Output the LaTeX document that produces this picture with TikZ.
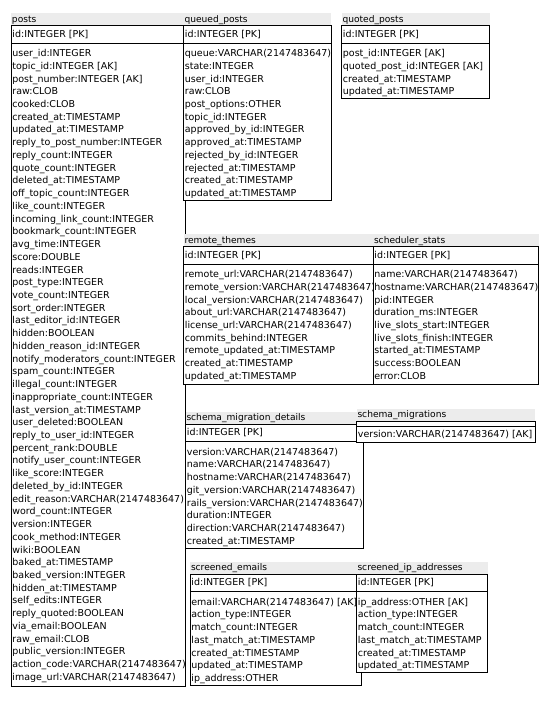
\documentclass[tikz,border=0pt]{standalone}
\usepackage{fontspec}
\setmainfont{DejaVu Sans}
\definecolor{hdrgray}{RGB}{236,236,236}
\tikzset{
  tblbox/.style={draw=black, fill=white, line width=1pt},
  sepline/.style={draw=black, line width=1pt},
  ttl/.style={anchor=base west, inner sep=0pt, font=\fontsize{9.1}{10}\selectfont},
  rowtxt/.style={anchor=base west, inner sep=0pt, font=\fontsize{9.5}{11}\selectfont},
}
% #1 id, #2 title, #3 left, #4 right, #5 top, #6 bottom, #7 pk text, #8 columns
\newcommand{\erTable}[8]{%
  \fill[hdrgray] (#3,#5-12.5) rectangle (#4,#5);
  \node[ttl] (#1-title) at (#3+0.8,#5-3.4) {#2};
  \draw[tblbox] (#3,#5) rectangle (#4,#6);
  \draw[sepline] (#3,#5+17.6) -- (#4,#5+17.6);
  \node[rowtxt] (#1-pk) at (#3+1.2,#5+11.6) {#7};
  \foreach \c [count=\i] in {#8}{
    \node[rowtxt] (#1-c\i) at (#3+1.2,{#5+31.1+(\i-1)*12.73}) {\c};
  }%
}
\begin{document}
\begin{tikzpicture}[x=1pt,y=-1pt]
\fill[white] (0,0) rectangle (552,711);
\useasboundingbox (0,0) rectangle (552,711);

\erTable{posts}{posts}{11}{185.5}{25.5}{686}{id:INTEGER [PK]}{%
user\_id:INTEGER,topic\_id:INTEGER [AK],post\_number:INTEGER [AK],raw:CLOB,cooked:CLOB,%
created\_at:TIMESTAMP,updated\_at:TIMESTAMP,reply\_to\_post\_number:INTEGER,reply\_count:INTEGER,%
quote\_count:INTEGER,deleted\_at:TIMESTAMP,off\_topic\_count:INTEGER,like\_count:INTEGER,%
incoming\_link\_count:INTEGER,bookmark\_count:INTEGER,avg\_time:INTEGER,score:DOUBLE,reads:INTEGER,%
post\_type:INTEGER,vote\_count:INTEGER,sort\_order:INTEGER,last\_editor\_id:INTEGER,hidden:BOOLEAN,%
hidden\_reason\_id:INTEGER,notify\_moderators\_count:INTEGER,spam\_count:INTEGER,illegal\_count:INTEGER,%
inappropriate\_count:INTEGER,last\_version\_at:TIMESTAMP,user\_deleted:BOOLEAN,reply\_to\_user\_id:INTEGER,%
percent\_rank:DOUBLE,notify\_user\_count:INTEGER,like\_score:INTEGER,deleted\_by\_id:INTEGER,%
edit\_reason:VARCHAR(2147483647),word\_count:INTEGER,version:INTEGER,cook\_method:INTEGER,wiki:BOOLEAN,%
baked\_at:TIMESTAMP,baked\_version:INTEGER,hidden\_at:TIMESTAMP,self\_edits:INTEGER,reply\_quoted:BOOLEAN,%
via\_email:BOOLEAN,raw\_email:CLOB,public\_version:INTEGER,action\_code:VARCHAR(2147483647),%
image\_url:VARCHAR(2147483647)}

\erTable{queued}{queued\_posts}{183.5}{331}{25.5}{200.5}{id:INTEGER [PK]}{%
queue:VARCHAR(2147483647),state:INTEGER,user\_id:INTEGER,raw:CLOB,post\_options:OTHER,topic\_id:INTEGER,%
approved\_by\_id:INTEGER,approved\_at:TIMESTAMP,rejected\_by\_id:INTEGER,rejected\_at:TIMESTAMP,%
created\_at:TIMESTAMP,updated\_at:TIMESTAMP}

\erTable{quoted}{quoted\_posts}{341.5}{489.5}{25.5}{99}{id:INTEGER [PK]}{%
post\_id:INTEGER [AK],quoted\_post\_id:INTEGER [AK],created\_at:TIMESTAMP,updated\_at:TIMESTAMP}

\erTable{remote}{remote\_themes}{183.5}{373}{246.5}{384.5}{id:INTEGER [PK]}{%
remote\_url:VARCHAR(2147483647),remote\_version:VARCHAR(2147483647),local\_version:VARCHAR(2147483647),%
about\_url:VARCHAR(2147483647),license\_url:VARCHAR(2147483647),commits\_behind:INTEGER,%
remote\_updated\_at:TIMESTAMP,created\_at:TIMESTAMP,updated\_at:TIMESTAMP}

\erTable{sched}{scheduler\_stats}{373}{538.5}{246.5}{384.5}{id:INTEGER [PK]}{%
name:VARCHAR(2147483647),hostname:VARCHAR(2147483647),pid:INTEGER,duration\_ms:INTEGER,%
live\_slots\_start:INTEGER,live\_slots\_finish:INTEGER,started\_at:TIMESTAMP,success:BOOLEAN,error:CLOB}

\erTable{smd}{schema\_migration\_details}{185.5}{363}{424}{548}{id:INTEGER [PK]}{%
version:VARCHAR(2147483647),name:VARCHAR(2147483647),hostname:VARCHAR(2147483647),%
git\_version:VARCHAR(2147483647),rails\_version:VARCHAR(2147483647),duration:INTEGER,%
direction:VARCHAR(2147483647),created\_at:TIMESTAMP}

% schema_migrations (empty primary key section)
\fill[hdrgray] (356.5,408.5) rectangle (535,421);
\node[ttl] (sm-title) at (357.3,417.6) {schema\_migrations};
\draw[tblbox] (356.5,421) rectangle (535,442);
\draw[sepline] (356.5,426) -- (535,426);
\node[rowtxt] (sm-c1) at (357.7,437.5) {version:VARCHAR(2147483647) [AK]};

\erTable{semails}{screened\_emails}{190}{361.5}{574}{685.5}{id:INTEGER [PK]}{%
email:VARCHAR(2147483647) [AK],action\_type:INTEGER,match\_count:INTEGER,last\_match\_at:TIMESTAMP,%
created\_at:TIMESTAMP,updated\_at:TIMESTAMP,ip\_address:OTHER}

\erTable{sip}{screened\_ip\_addresses}{356.5}{487.5}{574}{672}{id:INTEGER [PK]}{%
ip\_address:OTHER [AK],action\_type:INTEGER,match\_count:INTEGER,last\_match\_at:TIMESTAMP,%
created\_at:TIMESTAMP,updated\_at:TIMESTAMP}
\end{tikzpicture}
\end{document}
